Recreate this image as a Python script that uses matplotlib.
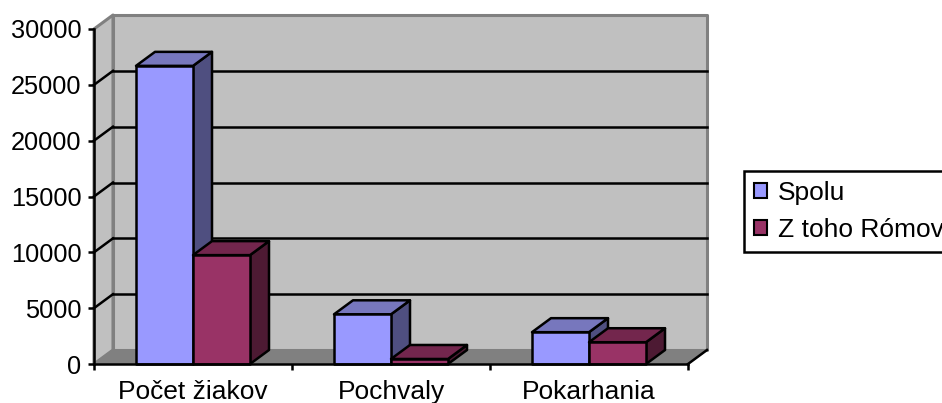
import matplotlib
matplotlib.use("Agg")
import matplotlib.pyplot as plt
from matplotlib.patches import Polygon, Patch

categories = ["Počet žiakov", "Pochvaly", "Pokarhania"]
spolu = [26700, 4450, 2850]
romov = [9750, 450, 1950]
y_ticks = [0, 5000, 10000, 15000, 20000, 25000, 30000]

plt.rcParams["font.family"] = ["Liberation Sans", "DejaVu Sans"]

W, H = 942, 403
fig = plt.figure(figsize=(W / 100, H / 100), dpi=100, facecolor="white")
# plot front plane in pixels: x 94-688, y 29-364
ax = fig.add_axes([94 / W, 1 - 364 / H, 594 / W, 335 / H])
ax.set_xlim(0, 3)
ax.set_ylim(0, 30000)
ax.patch.set_visible(False)

# depth of the fake 3D box, in data units
dx = 19 / 198
dy = 14 / 335 * 30000
bar_w = 57 / 198
LW = 1.8


def poly(pts, color, edge="black", lw=LW, z=3):
    ax.add_patch(Polygon(pts, closed=True, facecolor=color, edgecolor=edge,
                         linewidth=lw, joinstyle="round", clip_on=False, zorder=z))


# ── walls and floor ───────────────────────────────────────────
poly([(0, 0), (dx, dy), (dx, 30000 + dy), (0, 30000)], "#C0C0C0", "#808080", 2.2, 1)
poly([(dx, dy), (3 + dx, dy), (3 + dx, 30000 + dy), (dx, 30000 + dy)], "#C0C0C0", "#808080", 2.2, 1)
poly([(0, 0), (3, 0), (3 + dx, dy), (dx, dy)], "#808080", "#808080", 1, 1)

for v in y_ticks[1:-1]:
    ax.plot([dx, 3 + dx], [v + dy, v + dy], color="black", lw=LW, zorder=2, clip_on=False)
    ax.plot([0, dx], [v, v + dy], color="black", lw=LW, zorder=2, clip_on=False)
ax.plot([3, 3 + dx], [0, dy], color="black", lw=LW, zorder=2, clip_on=False)


# ── bars ──────────────────────────────────────────────────────
def bar3d(x, h, front, top, side, z):
    poly([(x + bar_w, 0), (x + bar_w + dx, dy), (x + bar_w + dx, h + dy), (x + bar_w, h)], side, z=z)
    poly([(x, h), (x + bar_w, h), (x + bar_w + dx, h + dy), (x + dx, h + dy)], top, z=z)
    poly([(x, 0), (x + bar_w, 0), (x + bar_w, h), (x, h)], front, z=z)


for i in range(len(categories)):
    bar3d(i + 0.5 - bar_w, spolu[i], "#9999FF", "#7777BD", "#4F4F80", 3)
    bar3d(i + 0.5, romov[i], "#993366", "#73264D", "#4D1A33", 4)

# ── axes ──────────────────────────────────────────────────────
for s in ["top", "right"]:
    ax.spines[s].set_visible(False)
for s in ["left", "bottom"]:
    ax.spines[s].set_linewidth(LW)
    ax.spines[s].set_zorder(5)

ax.set_yticks(y_ticks)
ax.set_xticks([0, 1, 2, 3])
ax.set_xticklabels([])
ax.set_xticks([0.5, 1.5, 2.5], minor=True)
ax.set_xticklabels(categories, minor=True, fontsize=19)
ax.tick_params(axis="y", labelsize=18.3, length=4, width=LW, pad=5)
ax.tick_params(axis="x", which="major", length=4, width=LW)
ax.tick_params(axis="x", which="minor", length=0, pad=11.5)

handles = [Patch(facecolor="#9999FF", edgecolor="black", linewidth=1.5),
           Patch(facecolor="#993366", edgecolor="black", linewidth=1.5)]
fig.legend(handles, ["Spolu", "Z toho Rómov"], loc="upper left",
           bbox_to_anchor=(744 / W, 1 - 171 / H), fontsize=19, fancybox=False,
           framealpha=1, edgecolor="black", handlelength=0.5, handleheight=0.5,
           handletextpad=0.4, borderpad=0.38, labelspacing=0.5, borderaxespad=0)
fig.legends[0].get_frame().set_linewidth(LW)

fig.savefig("out.png", dpi=100)
